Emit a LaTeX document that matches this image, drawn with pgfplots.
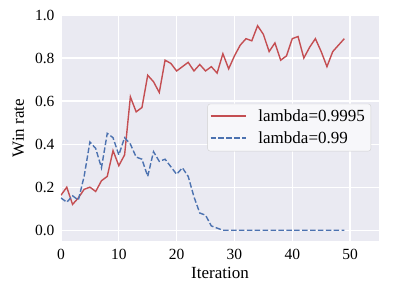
\documentclass[border=0pt]{standalone}
\usepackage{pgfplots}
\pgfplotsset{compat=1.18}
\usepackage{fontspec}
\setmainfont{Liberation Serif}
\definecolor{sbred}{RGB}{196,78,82}
\definecolor{sbblue}{RGB}{76,114,176}
\definecolor{sbbg}{RGB}{234,234,242}
\begin{document}
\begin{tikzpicture}[x=1pt,y=1pt]
\path[use as bounding box] (-61,-55) rectangle (333,241);
\begin{axis}[
  at={(0,0)}, anchor=south west,
  width=318pt, height=226pt, scale only axis,
  xmin=0, xmax=55, ymin=-0.05, ymax=1.0,
  xtick={0,10,20,30,40,50},
  ytick={0,0.2,0.4,0.6,0.8,1.0},
  yticklabel style={/pgf/number format/fixed,/pgf/number format/fixed zerofill,/pgf/number format/precision=1},
  /pgf/number format/assume math mode=true,
  axis background/.style={fill=sbbg},
  axis line style={draw=none},
  tick style={draw=none},
  grid=major,
  major grid style={white, line width=1.2pt},
  ticklabel style={font=\fontsize{15.5}{18}\selectfont},
  label style={font=\fontsize{17}{20}\selectfont},
  xlabel={Iteration}, ylabel={Win rate},
  xlabel style={yshift=0pt},
  ylabel style={yshift=4pt},
  xticklabel style={yshift=-5pt},
  yticklabel style={xshift=-3pt},
  legend style={at={(0.975,0.502)}, anchor=east, fill=sbbg!40!white, draw=black!18, rounded corners=2.5pt, font=\fontsize{17}{20}\selectfont, row sep=4.5pt, column sep=8pt, inner xsep=2pt, inner ysep=4pt, nodes={inner xsep=4pt}},
  legend cell align=left,
  legend image code/.code={\draw[#1, line width=1.8pt] (0pt,0.4pt) -- (35pt,0.4pt);},
]
\addplot[sbred, line width=1.4pt] coordinates {
(0,0.163)(1,0.20)(2,0.12)(3,0.15)(4,0.19)(5,0.20)(6,0.18)(7,0.23)(8,0.25)(9,0.37)
(10,0.30)(11,0.35)(12,0.62)(13,0.55)(14,0.57)(15,0.72)(16,0.69)(17,0.64)(18,0.79)(19,0.775)
(20,0.74)(21,0.76)(22,0.78)(23,0.74)(24,0.77)(25,0.74)(26,0.76)(27,0.73)(28,0.82)(29,0.75)
(30,0.81)(31,0.86)(32,0.89)(33,0.88)(34,0.95)(35,0.91)(36,0.83)(37,0.87)(38,0.79)(39,0.81)
(40,0.89)(41,0.90)(42,0.80)(43,0.85)(44,0.89)(45,0.83)(46,0.76)(47,0.83)(48,0.86)(49,0.89)
};
\addlegendentry{lambda=0.9995}
\addplot[sbblue, line width=1.4pt, dash pattern=on 5.5pt off 2.4pt] coordinates {
(0,0.15)(1,0.13)(2,0.16)(3,0.14)(4,0.25)(5,0.41)(6,0.38)(7,0.29)(8,0.45)(9,0.43)
(10,0.35)(11,0.43)(12,0.40)(13,0.34)(14,0.33)(15,0.25)(16,0.365)(17,0.32)(18,0.33)(19,0.295)
(20,0.26)(21,0.29)(22,0.25)(23,0.155)(24,0.08)(25,0.07)(26,0.02)(27,0.01)(28,0)(29,0)
(30,0)(31,0)(32,0)(33,0)(34,0)(35,0)(36,0)(37,0)(38,0)(39,0)
(40,0)(41,0)(42,0)(43,0)(44,0)(45,0)(46,0)(47,0)(48,0)(49,0)
};
\addlegendentry{lambda=0.99}
\end{axis}
\end{tikzpicture}
\end{document}
